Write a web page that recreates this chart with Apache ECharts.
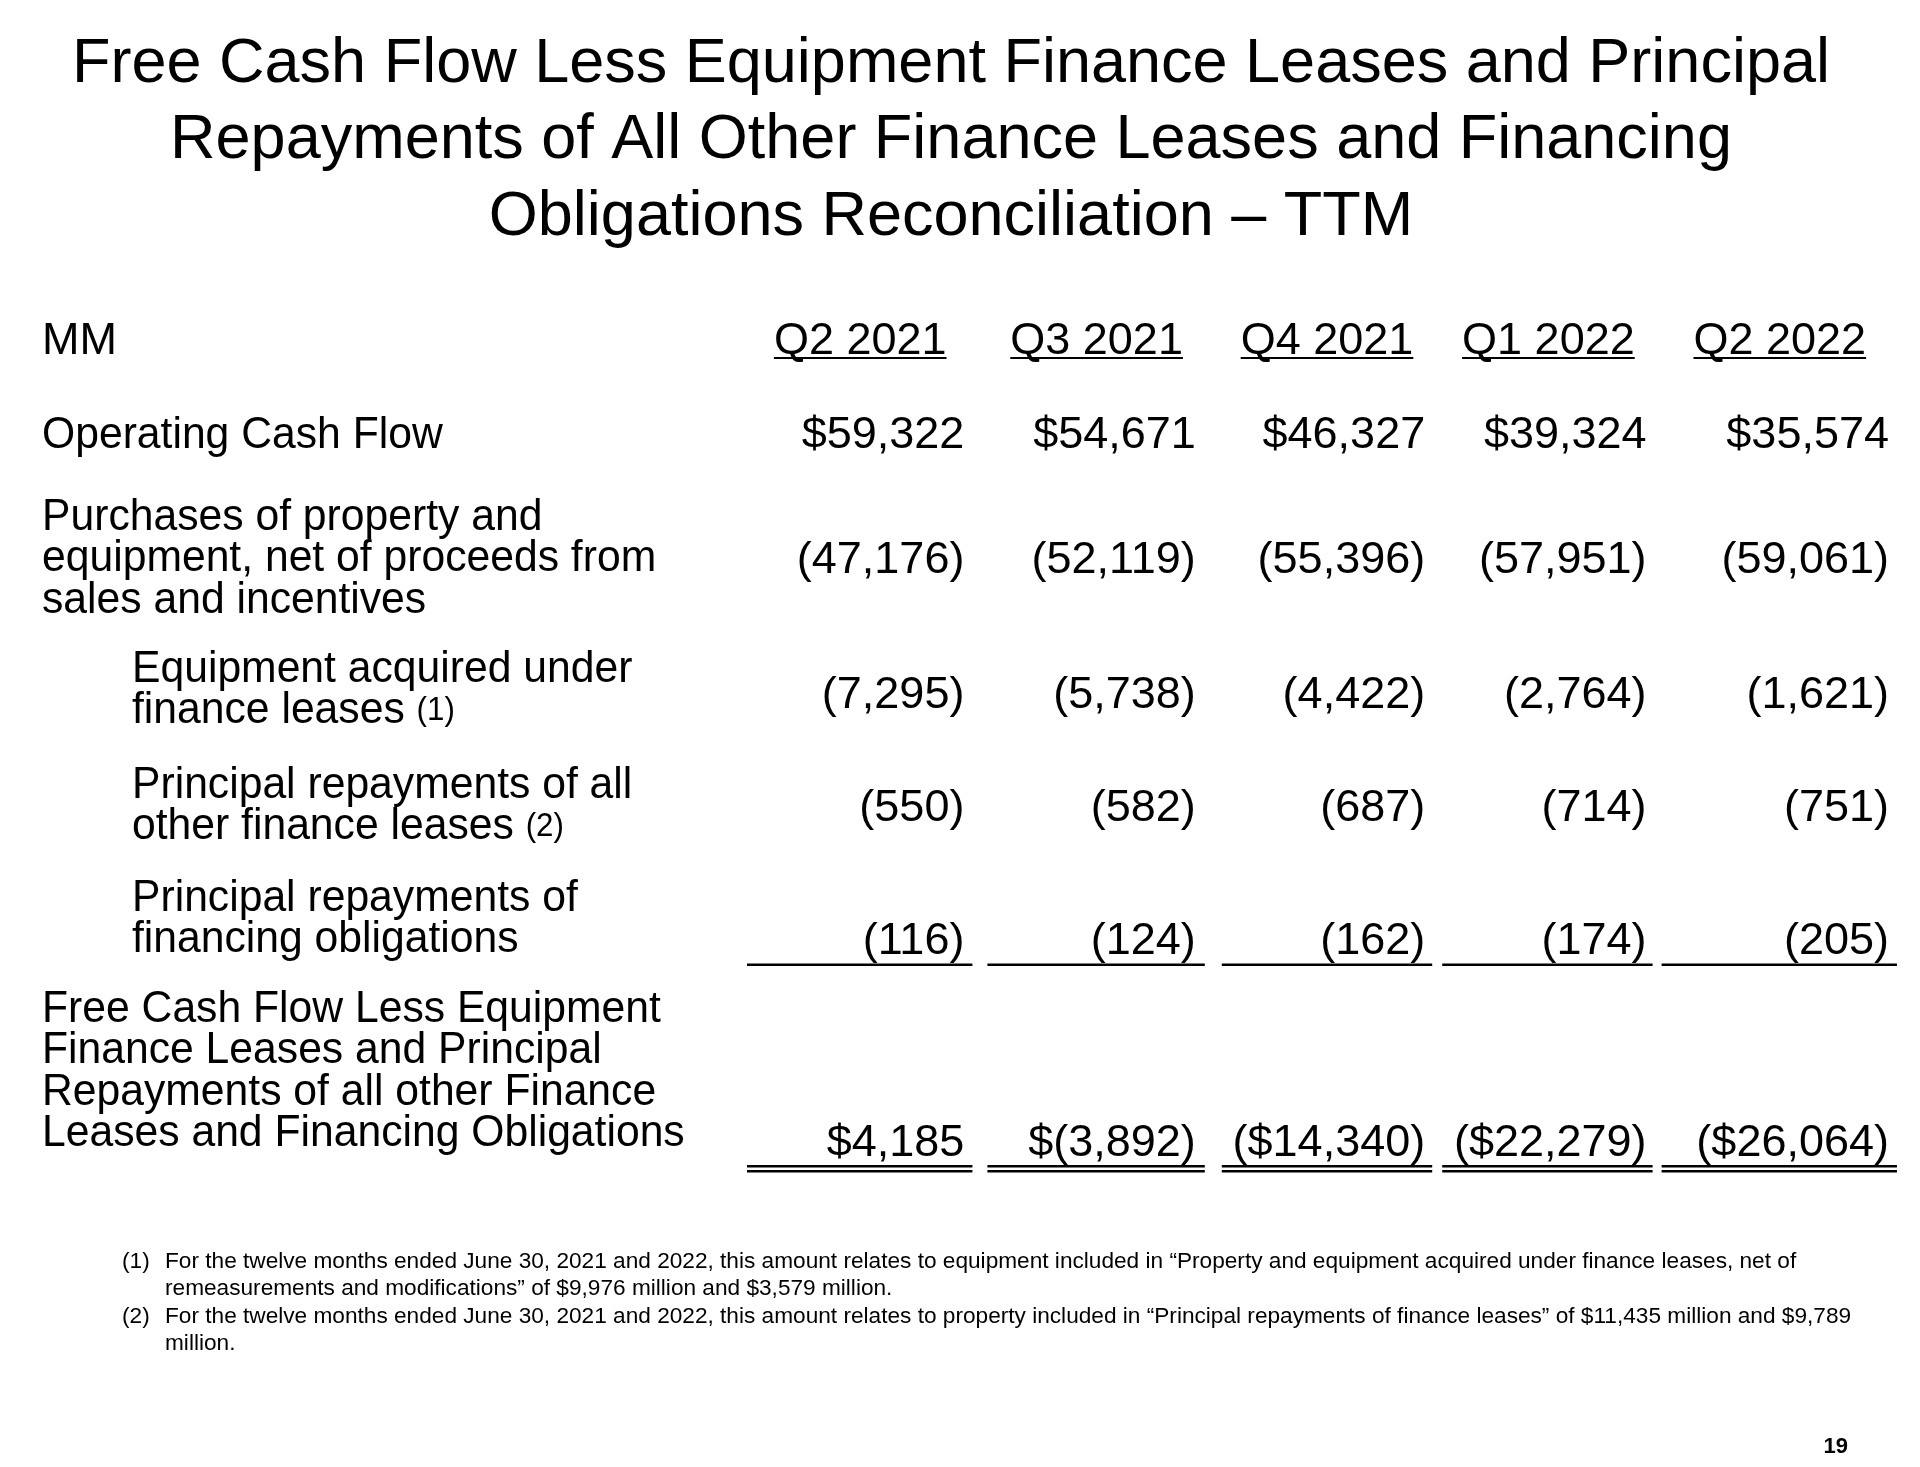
<!DOCTYPE html>
<html>
<head>
<meta charset="utf-8">
<script src="https://cdn.jsdelivr.net/npm/echarts@6/dist/echarts.min.js"></script>
<style>
html,body{margin:0;padding:0;background:#ffffff;}
#chart{width:1920px;height:1467px;}
</style>
</head>
<body>
<div id="chart"></div>
<script>
// ---------------- DATA ----------------
const titleLines = [
  'Free Cash Flow Less Equipment Finance Leases and Principal',
  'Repayments of All Other Finance Leases and Financing',
  'Obligations Reconciliation \u2013 TTM'
];
const unitLabel = 'MM';
const quarters = ['Q2 2021', 'Q3 2021', 'Q4 2021', 'Q1 2022', 'Q2 2022'];
const rowLabels = [
  'Operating Cash Flow',
  'Purchases of property and\nequipment, net of proceeds from\nsales and incentives',
  'Equipment acquired under\nfinance leases {fn|(1)}',
  'Principal repayments of all\nother finance leases {fn|(2)}',
  'Principal repayments of\nfinancing obligations',
  'Free Cash Flow Less Equipment\nFinance Leases and Principal\nRepayments of all other Finance\nLeases and Financing Obligations'
];
const operatingCashFlow = [59322, 54671, 46327, 39324, 35574];
const purchasesOfPPE = [-47176, -52119, -55396, -57951, -59061];
const equipmentFinanceLeases = [-7295, -5738, -4422, -2764, -1621];
const principalOtherFinanceLeases = [-550, -582, -687, -714, -751];
const principalFinancingObligations = [-116, -124, -162, -174, -205];
const freeCashFlowLessLeases = [4185, -3892, -14340, -22279, -26064];
const freeCashFlowLabels = ['$4,185', '$(3,892)', '($14,340)', '($22,279)', '($26,064)'];
const footnoteMarks = ['(1)', '(2)'];
const footnoteTexts = [
  'For the twelve months ended June 30, 2021 and 2022, this amount relates to equipment included in \u201cProperty and equipment acquired under finance leases, net of\nremeasurements and modifications\u201d of $9,976 million and $3,579 million.',
  'For the twelve months ended June 30, 2021 and 2022, this amount relates to property included in \u201cPrincipal repayments of finance leases\u201d of $11,435 million and $9,789\nmillion.'
];
const pageNumber = '19';

// ---------------- STYLE / LAYOUT ----------------
const FONT = "'Liberation Sans', Arial, Helvetica, sans-serif";
const INK = '#000000';
const FS = 45;          // table font size
const LH = 41.5;        // table line height
const LABEL_SCALE_X = 0.948;
const MID = 0.26;       // canvas 'middle' -> alphabetic baseline factor
const rowKeys = ['header', 'ocf', 'capex', 'eqLeases', 'prinLeases', 'prinFin', 'fcf'];
const rowValues = [null, operatingCashFlow, purchasesOfPPE, equipmentFinanceLeases,
  principalOtherFinanceLeases, principalFinancingObligations, freeCashFlowLessLeases];
// per-row vertical nudges (px from band centre to baselines) and decorations
const rowStyle = [
  { valueDy: 45.7, labelDy: 45.7, indent: false },
  { valueDy: 9.1, labelDy: 9.1, indent: false, dollar: true },
  { valueDy: 3.6, labelDy: -39.4, indent: false },
  { valueDy: 8.0, labelDy: -18.0, indent: true },
  { valueDy: -9.6, labelDy: -32.6, indent: true },
  { valueDy: -7.1, labelDy: -50.1, indent: true, rule: 'single', ruleDy: 3.4 },
  { valueDy: 64.3, labelDy: -69.7, indent: false, rule: 'double', ruleDy: 74.3 }
];
// per-column horizontal nudges
const colStyle = [
  { pad: 11, ruleL: 2, ruleR: 3, headDx: 0 },
  { pad: 10, ruleL: 12, ruleR: 1, headDx: 6 },
  { pad: 11, ruleL: 16, ruleR: 4, headDx: 6 },
  { pad: 20, ruleL: 6, ruleR: 14, headDx: -3 },
  { pad: 8, ruleL: -5, ruleR: 0, headDx: -2 }
];
const LABEL_X = 42, INDENT_X = 132;

const measureCtx = document.createElement('canvas').getContext('2d');
function textWidth(t, fs, weight) {
  measureCtx.font = (weight || 'normal') + ' ' + fs + 'px ' + FONT;
  return measureCtx.measureText(t).width;
}
function fmtValue(v, dollar) {
  const s = Math.abs(v).toLocaleString('en-US');
  return v < 0 ? '(' + s + ')' : (dollar ? '$' : '') + s;
}
function topFromBaseline(baseline, fs, lh) { return baseline - lh / 2 - MID * fs; }
function txt(x, y, text, opt) {
  const fs = opt.fontSize;
  const lh = opt.lineHeight || fs;
  const style = {
    text: text, fill: INK, fontSize: fs, fontFamily: FONT,
    fontWeight: opt.fontWeight || 'normal', lineHeight: lh,
    align: opt.align || 'left', textAlign: opt.align || 'left',
    verticalAlign: 'top', textVerticalAlign: 'top'
  };
  if (opt.rich) style.rich = opt.rich;
  const el = { type: 'text', x: x, y: topFromBaseline(y, fs, lh), style: style, silent: true };
  if (opt.scaleX) el.scaleX = opt.scaleX;
  return el;
}
function bar(x, y, w, h) {
  return { type: 'rect', shape: { x: x, y: y, width: w, height: h }, style: { fill: INK }, silent: true };
}

// cell data: [column index, row index]
const cells = [];
for (let r = 0; r < rowKeys.length; r++) {
  for (let c = 0; c < quarters.length; c++) cells.push([c, r]);
}

function renderCell(params, api) {
  const c = api.value(0), r = api.value(1);
  const p = api.coord([c, r]);
  const band = api.size([1, 1]);
  const left = p[0] - band[0] / 2, right = p[0] + band[0] / 2;
  const st = rowStyle[r];
  const cs = colStyle[c];
  const kids = [];
  if (r === 0) {
    const q = quarters[c];
    const w = textWidth(q, FS);
    const cx = p[0] + cs.headDx;
    kids.push(txt(cx, p[1] + st.valueDy, q, { fontSize: FS, align: 'center' }));
    kids.push(bar(cx - w / 2, p[1] + st.valueDy + 4, w, 2));
    if (c === 0) kids.push(txt(LABEL_X, p[1] + st.labelDy, unitLabel, { fontSize: FS }));
  } else {
    const label = r === 6 ? freeCashFlowLabels[c] : fmtValue(rowValues[r][c], st.dollar);
    kids.push(txt(right - cs.pad, p[1] + st.valueDy, label, { fontSize: FS, align: 'right' }));
    if (c === 0) {
      kids.push(txt(st.indent ? INDENT_X : LABEL_X, p[1] + st.labelDy, rowLabels[r - 1], {
        fontSize: FS, lineHeight: LH, scaleX: LABEL_SCALE_X,
        rich: { fn: { fontSize: 33, fontFamily: FONT, fill: INK, lineHeight: LH } }
      }));
    }
    const x0 = left + cs.ruleL, x1 = right - cs.ruleR;
    if (st.rule === 'single') {
      kids.push(bar(x0, p[1] + st.ruleDy, x1 - x0, 2.5));
    } else if (st.rule === 'double') {
      kids.push(bar(x0, p[1] + st.ruleDy, x1 - x0, 2.5));
      kids.push(bar(x0, p[1] + st.ruleDy + 5, x1 - x0, 2.5));
    }
  }
  return { type: 'group', children: kids };
}

// ---------------- CHART ----------------
const chart = echarts.init(document.getElementById('chart'), null, { renderer: 'canvas' });

const graphics = [];
graphics.push(txt(951, 81, titleLines.join('\n'), { fontSize: 63, lineHeight: 76.5, align: 'center' }));
const fnBaselines = [1268, 1323];
footnoteTexts.forEach((t, i) => {
  graphics.push(txt(122, fnBaselines[i], footnoteMarks[i], { fontSize: 22.65, lineHeight: 27 }));
  graphics.push(txt(165, fnBaselines[i], t, { fontSize: 22.65, lineHeight: 27 }));
});
graphics.push(txt(1848, 1453, pageNumber, { fontSize: 22, fontWeight: 'bold', align: 'right' }));

chart.setOption({
  backgroundColor: '#ffffff',
  animation: false,
  textStyle: { fontFamily: FONT },
  grid: { left: 745, right: 23, top: 242, bottom: 311 },
  xAxis: { type: 'category', data: quarters, show: false },
  yAxis: { type: 'category', data: rowKeys, inverse: true, show: false },
  graphic: graphics,
  series: [{
    type: 'custom',
    name: 'reconciliation',
    clip: false,
    data: cells,
    renderItem: renderCell,
    silent: true
  }]
});
</script>
</body>
</html>
